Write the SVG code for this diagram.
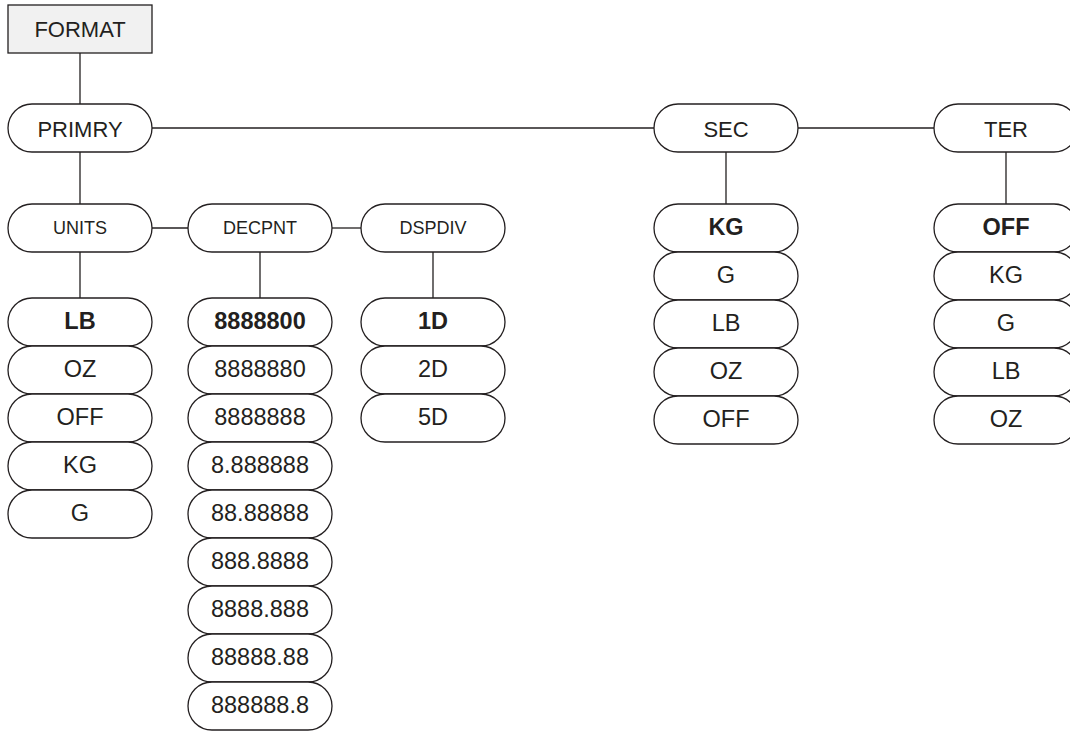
<svg xmlns="http://www.w3.org/2000/svg" width="1070" height="732" viewBox="0 0 1070 732">
<style>
.p{fill:#fff;stroke:#231f20;stroke-width:1.3}
.box{fill:#f1f1f1;stroke:#231f20;stroke-width:1.3}
.c{stroke:#231f20;stroke-width:1.3;fill:none}
text{font-family:"Liberation Sans",Arial,sans-serif;fill:#231f20;text-anchor:middle}
.h{font-size:22px}
.s{font-size:18px}
.i{font-size:23.5px}
.b{font-weight:bold}
</style>
<rect width="1070" height="732" fill="#fff"/>
<g id="connectors">
<line class="c" x1="80" y1="53" x2="80" y2="104"/>
<line class="c" x1="80" y1="152" x2="80" y2="204"/>
<line class="c" x1="80" y1="252" x2="80" y2="298"/>
<line class="c" x1="260" y1="252" x2="260" y2="298"/>
<line class="c" x1="433" y1="252" x2="433" y2="298"/>
<line class="c" x1="726" y1="152" x2="726" y2="204"/>
<line class="c" x1="1006" y1="152" x2="1006" y2="204"/>
<line class="c" x1="152" y1="128" x2="654" y2="128"/>
<line class="c" x1="798" y1="128" x2="934" y2="128"/>
<line class="c" x1="152" y1="228" x2="188" y2="228"/>
<line class="c" x1="332" y1="228" x2="361" y2="228"/>
</g>
<g id="format"><rect class="box" x="8" y="5" width="144" height="48"/><text class="h" x="80" y="37">FORMAT</text></g>
<g id="primry"><rect class="p" x="8" y="104" width="144" height="48" rx="24"/><text class="h" x="80" y="136.5">PRIMRY</text></g>
<g id="sec"><rect class="p" x="654" y="104" width="144" height="48" rx="24"/><text class="h" x="726" y="136.5">SEC</text></g>
<g id="ter"><rect class="p" x="934" y="104" width="144" height="48" rx="24"/><text class="h" x="1006" y="136.5">TER</text></g>
<g id="units"><rect class="p" x="8" y="204" width="144" height="48" rx="24"/><text class="s" x="80" y="233.5">UNITS</text></g>
<g id="decpnt"><rect class="p" x="188" y="204" width="144" height="48" rx="24"/><text class="s" x="260" y="233.5">DECPNT</text></g>
<g id="dspdiv"><rect class="p" x="361" y="204" width="144" height="48" rx="24"/><text class="s" x="433" y="233.5">DSPDIV</text></g>

<g id="units-lb"><rect class="p" x="8" y="298" width="144" height="48" rx="24"/><text class="i b" x="80" y="329">LB</text></g>
<g id="units-oz"><rect class="p" x="8" y="346" width="144" height="48" rx="24"/><text class="i" x="80" y="377">OZ</text></g>
<g id="units-off"><rect class="p" x="8" y="394" width="144" height="48" rx="24"/><text class="i" x="80" y="425">OFF</text></g>
<g id="units-kg"><rect class="p" x="8" y="442" width="144" height="48" rx="24"/><text class="i" x="80" y="473">KG</text></g>
<g id="units-g"><rect class="p" x="8" y="490" width="144" height="48" rx="24"/><text class="i" x="80" y="521">G</text></g>

<g id="dec-1"><rect class="p" x="188" y="298" width="144" height="48" rx="24"/><text class="i b" x="260" y="329">8888800</text></g>
<g id="dec-2"><rect class="p" x="188" y="346" width="144" height="48" rx="24"/><text class="i" x="260" y="377">8888880</text></g>
<g id="dec-3"><rect class="p" x="188" y="394" width="144" height="48" rx="24"/><text class="i" x="260" y="425">8888888</text></g>
<g id="dec-4"><rect class="p" x="188" y="442" width="144" height="48" rx="24"/><text class="i" x="260" y="473">8.888888</text></g>
<g id="dec-5"><rect class="p" x="188" y="490" width="144" height="48" rx="24"/><text class="i" x="260" y="521">88.88888</text></g>
<g id="dec-6"><rect class="p" x="188" y="538" width="144" height="48" rx="24"/><text class="i" x="260" y="569">888.8888</text></g>
<g id="dec-7"><rect class="p" x="188" y="586" width="144" height="48" rx="24"/><text class="i" x="260" y="617">8888.888</text></g>
<g id="dec-8"><rect class="p" x="188" y="634" width="144" height="48" rx="24"/><text class="i" x="260" y="665">88888.88</text></g>
<g id="dec-9"><rect class="p" x="188" y="682" width="144" height="48" rx="24"/><text class="i" x="260" y="713">888888.8</text></g>

<g id="div-1d"><rect class="p" x="361" y="298" width="144" height="48" rx="24"/><text class="i b" x="433" y="329">1D</text></g>
<g id="div-2d"><rect class="p" x="361" y="346" width="144" height="48" rx="24"/><text class="i" x="433" y="377">2D</text></g>
<g id="div-5d"><rect class="p" x="361" y="394" width="144" height="48" rx="24"/><text class="i" x="433" y="425">5D</text></g>

<g id="sec-kg"><rect class="p" x="654" y="204" width="144" height="48" rx="24"/><text class="i b" x="726" y="235">KG</text></g>
<g id="sec-g"><rect class="p" x="654" y="252" width="144" height="48" rx="24"/><text class="i" x="726" y="283">G</text></g>
<g id="sec-lb"><rect class="p" x="654" y="300" width="144" height="48" rx="24"/><text class="i" x="726" y="331">LB</text></g>
<g id="sec-oz"><rect class="p" x="654" y="348" width="144" height="48" rx="24"/><text class="i" x="726" y="379">OZ</text></g>
<g id="sec-off"><rect class="p" x="654" y="396" width="144" height="48" rx="24"/><text class="i" x="726" y="427">OFF</text></g>

<g id="ter-off"><rect class="p" x="934" y="204" width="144" height="48" rx="24"/><text class="i b" x="1006" y="235">OFF</text></g>
<g id="ter-kg"><rect class="p" x="934" y="252" width="144" height="48" rx="24"/><text class="i" x="1006" y="283">KG</text></g>
<g id="ter-g"><rect class="p" x="934" y="300" width="144" height="48" rx="24"/><text class="i" x="1006" y="331">G</text></g>
<g id="ter-lb"><rect class="p" x="934" y="348" width="144" height="48" rx="24"/><text class="i" x="1006" y="379">LB</text></g>
<g id="ter-oz"><rect class="p" x="934" y="396" width="144" height="48" rx="24"/><text class="i" x="1006" y="427">OZ</text></g>
</svg>
